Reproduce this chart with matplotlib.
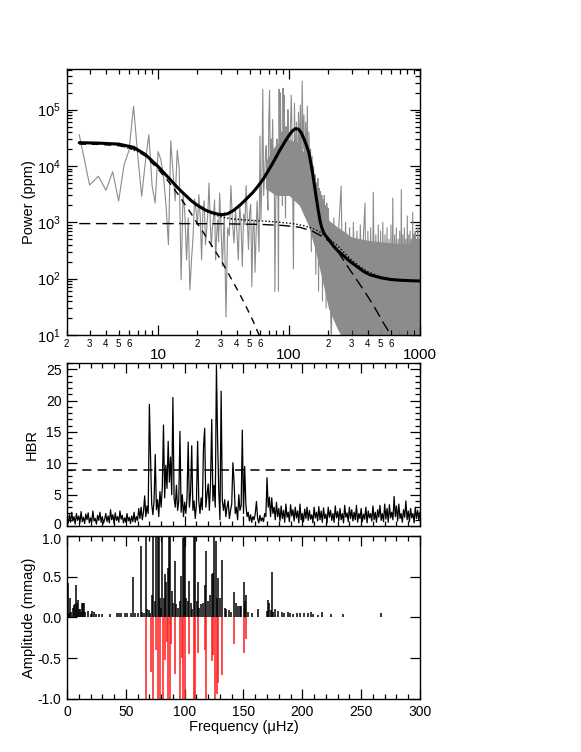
import numpy as np
import matplotlib
matplotlib.use("Agg")
import matplotlib.pyplot as plt
import matplotlib.transforms as mtransforms
from matplotlib.ticker import FixedLocator, FuncFormatter, MultipleLocator, LogLocator, NullFormatter

plt.rcParams["font.family"] = ["Liberation Sans", "DejaVu Sans"]
plt.rcParams["mathtext.default"] = "regular"

# ---- power spectrum (gray) in four frequency segments ----
psd_freq_a = np.arange(2.5, 30.5, 0.5)
psd_pow_a = [3.6e4, 4.6e3, 6.6e3, 3.7e3, 7.9e3, 2.4e3, 1.05e4, 1.9e4, 1.15e5, 1.5e4,
             2.9e3, 1.2e4, 3.6e4, 4.5e3, 2.2e3, 1.8e4, 1.3e4, 6.5e3, 2.0e3, 4.0e2,
             2.8e4, 8e3, 2.4e3, 1.9e4, 9e3, 95, 3.1e3, 1.5e3, 215, 1.2e3,
             63, 215, 560, 2.6e3, 1.66e3, 900, 3.1e3, 1.2e3, 215, 1.6e3,
             2.4e3, 400, 740, 1.5e3, 5e3, 1.1e3, 370, 800, 1.2e3, 2.5e3,
             215, 600, 1.1e3, 450, 3.3e3, 1.4e3]
psd_freq_b = np.arange(31, 101, 1)
psd_pow_b = [165, 1.5e3, 21, 800, 580, 4.5e3, 1.0e3, 430, 1.66e3, 700,
             215, 2.1e3, 900, 165, 1.4e3, 900, 4.5e3, 1.2e3, 330, 1.5e3,
             2.1e3, 72, 800, 1.1e3, 130, 600, 2.4e3, 900, 300, 3.4e4,
             1.1e3, 5e3, 2.3e5, 3e3, 7e3, 1.5e4, 2.3e4, 4e3, 1.66e3, 6e4,
             2.2e5, 8e3, 3e4, 1.2e4, 6.7e4, 4e3, 2e4, 59, 1.66e3, 7e3,
             3e4, 1.5e4, 60, 2.3e5, 5e3, 2e5, 1.2e4, 4e4, 2e3, 2.4e5,
             2.3e4, 1.8e5, 8e3, 1.2e3, 5e4, 1.5e4, 3e3, 1e5, 2e4, 7e3]
psd_freq_c = np.arange(102, 200, 2)
psd_pow_c = [3e4, 1.8e5, 2e4, 150, 1.3e5, 8e3, 6e4, 3e3, 9e4, 1.5e4,
             1.2e5, 4e3, 3.2e5, 2e4, 8e4, 2.5e3, 6e4, 9e3, 1.15e5, 1e3,
             4e4, 5e3, 2e4, 300, 1.5e4, 2e3, 1e4, 800, 7e3, 120,
             5e3, 1.5e3, 6e3, 60, 4e3, 700, 3.5e3, 200, 3e3, 40,
             2.5e3, 500, 3e3, 150, 2e3, 30, 2.2e3, 400, 1.8e3]
psd_freq_d = np.arange(200, 1001, 10)
psd_pow_d = [1.5e3, 8, 1.2e3, 30, 900, 4.4e3, 5, 1e3, 60, 800,
             6, 1e3, 20, 700, 4, 900, 40, 600, 2.2e3, 8,
             700, 15, 800, 5, 3.4e3, 30, 600, 6, 900, 12,
             700, 4, 1e3, 25, 600, 5, 800, 10, 500, 3,
             900, 20, 2.7e3, 6, 600, 15, 800, 4, 500, 30,
             700, 5, 3.8e3, 10, 600, 3, 800, 20, 500, 6,
             1.3e3, 12, 600, 4, 700, 25, 500, 8, 1.5e3, 5,
             600, 18, 700, 6, 500, 10, 800, 4, 500, 15, 600]

# dense core of the gray spectrum (where the trace is a solid band)
band_freq = [66, 80, 100, 120, 140, 160, 180, 200, 230, 260, 300, 400, 500, 700, 1000]
band_lo = [4e3, 3e3, 3e3, 2e3, 900, 300, 90, 30, 14, 8, 5, 5, 5, 5, 5]
band_hi = [1.2e4, 2.5e4, 3e4, 2.5e4, 1.2e4, 3.5e3, 1.6e3, 1.1e3, 850, 700, 550, 480, 450, 420, 420]

# ---- fitted model curves ----
fit_freq = [2.5, 3.5, 5, 6.5, 8, 10, 12, 14, 16, 18, 20, 23, 26, 29, 31, 34, 38, 43, 48, 53,
            58, 64, 70, 77, 85, 93, 100, 106, 112, 118, 124, 131, 137, 142, 147, 152, 157,
            162, 167, 172, 177, 183, 190, 197, 205, 218, 235, 258, 290, 329, 370, 416, 500,
            592, 700, 850, 1000]
fit_total = [2.6e4, 2.55e4, 2.45e4, 2.15e4, 1.6e4, 9.8e3, 6.2e3, 4.2e3, 3.1e3, 2.4e3, 2.0e3,
             1.65e3, 1.48e3, 1.39e3, 1.37e3, 1.42e3, 1.65e3, 2.1e3, 2.7e3, 3.4e3, 4.4e3, 6e3,
             8.5e3, 1.25e4, 1.9e4, 2.7e4, 3.5e4, 4.2e4, 4.6e4, 4.5e4, 3.9e4, 2.9e4, 2.2e4,
             1.7e4, 1.1e4, 7e3, 4.2e3, 2.6e3, 1.65e3, 1.1e3, 830, 670, 580, 525, 465, 380,
             315, 260, 205, 165, 135, 117, 104, 97, 94, 92, 91]

gran1_freq = [2.5, 3.5, 5, 6.5, 8, 10, 12, 14, 16, 18, 20, 23, 26, 30, 34, 38, 43, 48, 53, 58, 62]
gran1_pow = [2.45e4, 2.42e4, 2.3e4, 2.0e4, 1.5e4, 8.8e3, 5.3e3, 3.3e3, 2.1e3, 1.4e3, 950,
             580, 370, 220, 130, 82, 48, 29, 18, 11, 8]

gran2_freq = [2.5, 10, 30, 60, 90, 120, 150, 175, 200, 230, 260, 300, 340, 380, 420, 470, 520, 560, 600]
gran2_pow = [950, 950, 945, 920, 880, 820, 700, 580, 470, 330, 215, 130, 85, 58, 40, 26, 17, 13, 9.5]

bg_freq = [2.5, 5, 8, 10, 12, 14, 16, 18, 20, 23, 26, 30, 35, 40, 50, 60, 75, 90, 110, 130,
           150, 175, 200, 230, 260, 300, 350, 400, 500, 600, 800, 1000]
bg_pow = [2.56e4, 2.4e4, 1.6e4, 9.8e3, 6.3e3, 4.3e3, 3.1e3, 2.4e3, 1.95e3, 1.6e3, 1.4e3, 1.26e3,
          1.17e3, 1.13e3, 1.09e3, 1.06e3, 1.03e3, 990, 940, 870, 790, 660, 520, 400, 300, 215,
          162, 133, 108, 99, 93, 91]

# ---- height-to-background ratio, 1 uHz steps from 0 to 300 ----
hbr_freq = np.arange(0, 301, 1)
hbr = [1.2, 0.4, 1.8, 0.6, 2.2, 0.8, 1.5, 0.3, 2.0, 0.9, 1.6, 0.5, 2.3, 0.7, 1.4, 0.4, 1.9, 1.0, 2.1, 0.5,
       1.3, 0.6, 2.4, 0.8, 1.2, 0.3, 1.7, 0.9, 2.2, 0.6, 1.5, 0.4, 1.1, 2.0, 0.7, 1.6, 0.5, 2.6, 1.0, 1.8,
       0.4, 2.1, 0.9, 1.5, 0.6, 2.4, 1.1, 1.7, 0.5, 1.3, 0.6, 2.0, 0.8, 1.4, 0.4, 1.6, 0.7, 2.2, 0.6, 1.5,
       0.9, 2.8, 1.2, 3.0, 1.0, 2.2, 4.8, 1.5, 3.2, 2.0, 19.4, 11.0, 3.5, 1.8, 4.0, 11.4, 2.6, 4.2, 1.5, 5.5,
       3.0, 6.2, 16.1, 4.5, 9.7, 6.0, 13.5, 7.0, 11.0, 5.0, 20.5, 4.5, 3.0, 6.5, 2.5, 4.0, 15.1, 2.2, 5.0, 1.5,
       3.8, 2.0, 4.5, 13.4, 3.0, 5.2, 12.8, 2.5, 4.0, 1.2, 3.5, 13.5, 4.0, 2.0, 4.5, 2.6, 12.5, 15.6, 3.0, 5.0,
       6.7, 2.5, 7.0, 17.0, 4.0, 6.5, 3.0, 25.7, 13.7, 5.5, 1.0, 21.5, 4.0, 2.5, 4.2, 1.5, 3.0, 4.0, 1.2, 2.5,
       3.5, 10.1, 7.0, 2.0, 3.0, 1.0, 5.0, 2.5, 3.2, 15.3, 2.0, 9.5, 3.5, 1.5, 2.2, 0.8, 1.8, 0.6, 1.5, 1.0,
       2.0, 3.9, 1.2, 0.5, 1.7, 0.8, 1.3, 0.7, 2.0, 1.5, 7.7, 3.0, 4.6, 1.5, 4.5, 2.0, 3.0, 1.0, 3.8, 1.5,
       2.8, 0.8, 3.2, 1.2, 2.5, 0.6, 3.5, 1.4, 2.2, 0.7, 3.4, 1.6, 2.6, 0.8, 3.0, 1.3, 2.4, 0.5, 3.5, 1.0,
       2.0, 0.7, 2.7, 1.2, 3.0, 0.9, 2.5, 1.1, 1.8, 0.5, 3.0, 1.3, 2.2, 0.8, 3.1, 1.0, 2.4, 0.6, 2.9, 1.2,
       1.9, 0.5, 3.0, 1.4, 2.5, 0.9, 2.0, 0.6, 3.2, 1.3, 2.3, 0.8, 2.8, 1.0, 2.0, 0.5, 3.3, 1.4, 2.1, 0.7,
       3.0, 1.2, 2.6, 0.8, 2.2, 1.0, 3.3, 0.6, 2.0, 1.2, 2.8, 0.7, 1.9, 1.1, 3.0, 0.5, 2.4, 1.3, 2.0, 0.8,
       3.2, 1.0, 2.2, 0.6, 2.6, 1.4, 3.3, 0.9, 2.0, 0.7, 3.5, 1.1, 2.8, 0.6, 3.4, 1.3, 2.2, 1.0, 4.7, 1.5,
       3.2, 0.8, 3.5, 1.2, 2.0, 0.6, 2.6, 1.4, 4.0, 1.0, 2.4, 0.7, 2.8, 1.3, 2.0, 0.5, 3.0, 1.2, 2.5, 0.9,
       2.2]
hbr_threshold = 9

# ---- extracted frequencies: (frequency, amplitude) ----
amp_black = [(0.9, 0.42), (2.0, 0.05), (2.8, 0.24), (3.7, 0.07), (4.8, 0.12), (5.7, 0.15), (6.5, 0.16),
             (7.4, 0.40), (8.2, 0.18), (9.1, 0.21), (9.9, 0.11), (10.8, 0.11), (11.6, 0.07), (12.5, 0.18),
             (13.6, 0.18), (14.8, 0.18), (15.6, 0.07), (17.9, 0.08), (20.2, 0.04), (21.3, 0.08),
             (22.7, 0.07), (25.0, 0.04), (27.0, 0.04), (29.8, 0.04), (36.9, 0.04), (42.6, 0.06),
             (44.0, 0.05), (45.5, 0.05), (49.1, 0.05), (51.1, 0.05), (54.0, 0.05), (56.0, 0.50),
             (58.2, 0.05), (60.5, 0.05), (62.5, 0.88), (63.9, 0.07), (65.5, 0.05), (67.3, 1.0),
             (68.4, 0.10), (69.6, 0.09), (70.8, 0.06), (71.9, 0.28), (73.3, 1.0), (74.7, 0.20),
             (75.9, 1.0), (77.3, 1.0), (78.4, 1.0), (79.3, 0.24), (80.2, 0.12), (81.0, 1.0),
             (82.1, 0.24), (83.2, 0.53), (84.4, 0.44), (85.5, 0.61), (86.4, 1.0), (87.5, 1.0),
             (88.9, 0.32), (90.1, 0.18), (91.5, 0.69), (92.9, 0.16), (94.6, 0.12), (96.0, 0.20),
             (96.9, 0.51), (98.3, 0.98), (99.4, 1.0), (100.3, 1.0), (101.4, 0.24), (102.6, 0.20),
             (104.0, 0.45), (105.4, 0.18), (106.5, 0.10), (107.7, 1.0), (108.8, 1.0), (110.2, 0.20),
             (111.6, 0.44), (112.6, 0.12), (113.6, 0.16), (115.6, 0.18), (117.0, 0.40), (118.2, 0.81),
             (119.6, 0.20), (121.3, 0.28), (123.0, 0.53), (124.1, 0.55), (125.3, 1.0), (126.4, 0.94),
             (127.8, 0.24), (128.7, 0.49), (129.8, 0.24), (131.5, 0.70), (134.1, 0.12), (135.5, 0.11),
             (137.8, 0.09), (139.8, 0.07), (141.8, 0.31), (143.8, 0.18), (145.5, 0.14), (146.9, 0.14),
             (148.0, 0.14), (150.3, 0.44), (151.4, 0.20), (152.3, 0.27), (153.7, 0.07), (157.1, 0.05),
             (161.9, 0.11), (169.9, 0.08), (171.0, 0.21), (171.9, 0.18), (173.0, 0.09), (174.1, 0.56),
             (175.0, 0.07), (176.7, 0.10), (179.0, 0.08), (182.7, 0.07), (184.7, 0.05), (187.8, 0.07),
             (189.8, 0.05), (191.8, 0.04), (195.2, 0.05), (198.0, 0.05), (201.7, 0.05), (204.5, 0.06),
             (207.4, 0.07), (209.4, 0.04), (213.0, 0.03), (216.8, 0.07), (224.4, 0.04), (234.4, 0.04),
             (267.0, 0.05)]
amp_red = [(66.8, -1.0), (71.6, -0.67), (73.0, -1.0), (75.9, -0.40), (77.3, -1.0), (78.7, -1.0),
           (81.5, -1.0), (83.2, -0.52), (84.7, -0.30), (86.1, -1.0), (87.5, -1.0), (88.6, -0.32),
           (91.5, -0.69), (96.3, -1.0), (97.4, -0.50), (98.9, -1.0), (100.3, -1.0), (103.7, -0.45),
           (107.7, -1.0), (109.1, -1.0), (111.6, -0.43), (117.0, -0.40), (118.5, -1.0), (123.0, -0.54),
           (124.1, -0.46), (125.9, -1.0), (127.3, -0.94), (128.7, -0.81), (131.5, -0.70), (141.8, -0.32),
           (150.3, -0.44), (152.0, -0.27)]


def style_axis(ax):
    ax.tick_params(which="both", direction="in", top=True, right=True, width=0.9)
    ax.tick_params(which="major", length=7)
    ax.tick_params(which="minor", length=3.5)
    for sp in ax.spines.values():
        sp.set_linewidth(1.0)


def nudge_tick_label(fig, axis, loc, dy_pt):
    # shift one y tick label up/down by a few points so neighbouring panels don't collide
    shift = mtransforms.ScaledTranslation(0, dy_pt / 72.0, fig.dpi_scale_trans)
    for t in axis.get_major_ticks():
        if abs(t.get_loc() - loc) < 1e-9:
            t.label1.set_transform(t.label1.get_transform() + shift)


fig = plt.figure(figsize=(5.81, 7.52), dpi=100)

# ---- top panel: power spectrum ----
ax1 = fig.add_axes([0.1145, 0.5545, 0.6084, 0.3533])
freq = np.concatenate([psd_freq_a, psd_freq_b, psd_freq_c, psd_freq_d])
power = np.concatenate([psd_pow_a, psd_pow_b, psd_pow_c, psd_pow_d])
ax1.fill_between(band_freq, band_lo, band_hi, color="#8c8c8c", lw=0)
ax1.plot(freq, power, color="#8c8c8c", lw=0.8)
ax1.plot(gran1_freq, gran1_pow, color="black", lw=1.0, ls=(0, (5, 4)))
ax1.plot(gran2_freq, gran2_pow, color="black", lw=1.0, ls=(0, (8, 4)))
ax1.plot(bg_freq, bg_pow, color="black", lw=1.0, ls=(0, (1, 1.5)))
ax1.plot(fit_freq, fit_total, color="black", lw=2.2, solid_joinstyle="round", solid_capstyle="round")
ax1.set_xscale("log")
ax1.set_yscale("log")
ax1.set_xlim(2, 1000)
ax1.set_ylim(10, 5.2e5)
ax1.xaxis.set_major_locator(FixedLocator([10, 100, 1000]))
ax1.xaxis.set_major_formatter(FuncFormatter(lambda v, p: "%d" % v))
minor_x = [m * d for d in (1, 10, 100) for m in range(2, 10)]
ax1.xaxis.set_minor_locator(FixedLocator(minor_x))


def minor_label(v, p):
    m = v / 10 ** np.floor(np.log10(v) + 1e-9)
    m = int(round(m))
    return str(m) if m <= 6 else ""


ax1.xaxis.set_minor_formatter(FuncFormatter(minor_label))
ax1.yaxis.set_major_locator(LogLocator(base=10, numticks=10))
ax1.yaxis.set_minor_locator(LogLocator(base=10, subs=np.arange(2, 10), numticks=20))
ax1.yaxis.set_minor_formatter(NullFormatter())
style_axis(ax1)
ax1.tick_params(axis="x", which="major", labelsize=11, pad=9)
ax1.tick_params(axis="x", which="minor", labelsize=7, pad=3)
ax1.tick_params(axis="y", labelsize=10.5, pad=4)
ax1.set_ylabel("Power (ppm)", fontsize=10.5, labelpad=1)

# ---- middle panel: HBR ----
ax2 = fig.add_axes([0.1153, 0.3005, 0.6076, 0.2168])
ax2.plot(hbr_freq, hbr, color="black", lw=0.9)
ax2.axhline(hbr_threshold, color="black", lw=1.1, ls=(0, (6, 4)))
ax2.set_xlim(0, 300)
ax2.set_ylim(0, 26)
ax2.xaxis.set_major_locator(MultipleLocator(50))
ax2.xaxis.set_minor_locator(MultipleLocator(10))
ax2.yaxis.set_major_locator(MultipleLocator(5))
ax2.yaxis.set_minor_locator(MultipleLocator(1))
ax2.set_xticklabels([])
style_axis(ax2)
ax2.tick_params(axis="y", labelsize=10, pad=4)
ax2.set_ylabel("HBR", fontsize=10.5, labelpad=5)

# ---- bottom panel: extracted amplitudes ----
ax3 = fig.add_axes([0.1153, 0.0705, 0.6076, 0.2168])
bf, ba = zip(*amp_black)
rf, ra = zip(*amp_red)
ax3.vlines(bf, 0, ba, color="black", lw=1.1)
ax3.vlines(rf, 0, ra, color="#ff1a1a", lw=1.1)
ax3.set_xlim(0, 300)
ax3.set_ylim(-1, 1)
ax3.xaxis.set_major_locator(MultipleLocator(50))
ax3.xaxis.set_minor_locator(MultipleLocator(10))
ax3.yaxis.set_major_locator(MultipleLocator(0.5))
ax3.yaxis.set_major_formatter(FuncFormatter(lambda v, p: "%.1f" % v))
style_axis(ax3)
ax3.tick_params(labelsize=10, pad=4)
ax3.set_ylabel("Amplitude (mmag)", fontsize=10.5, labelpad=1)
ax3.set_xlabel("Frequency (\u03bcHz)", fontsize=10.5, labelpad=1)

fig.canvas.draw()
nudge_tick_label(fig, ax2.yaxis, 0.0, 2.0)
nudge_tick_label(fig, ax3.yaxis, 1.0, -2.0)

fig.savefig("out.png", dpi=100)
